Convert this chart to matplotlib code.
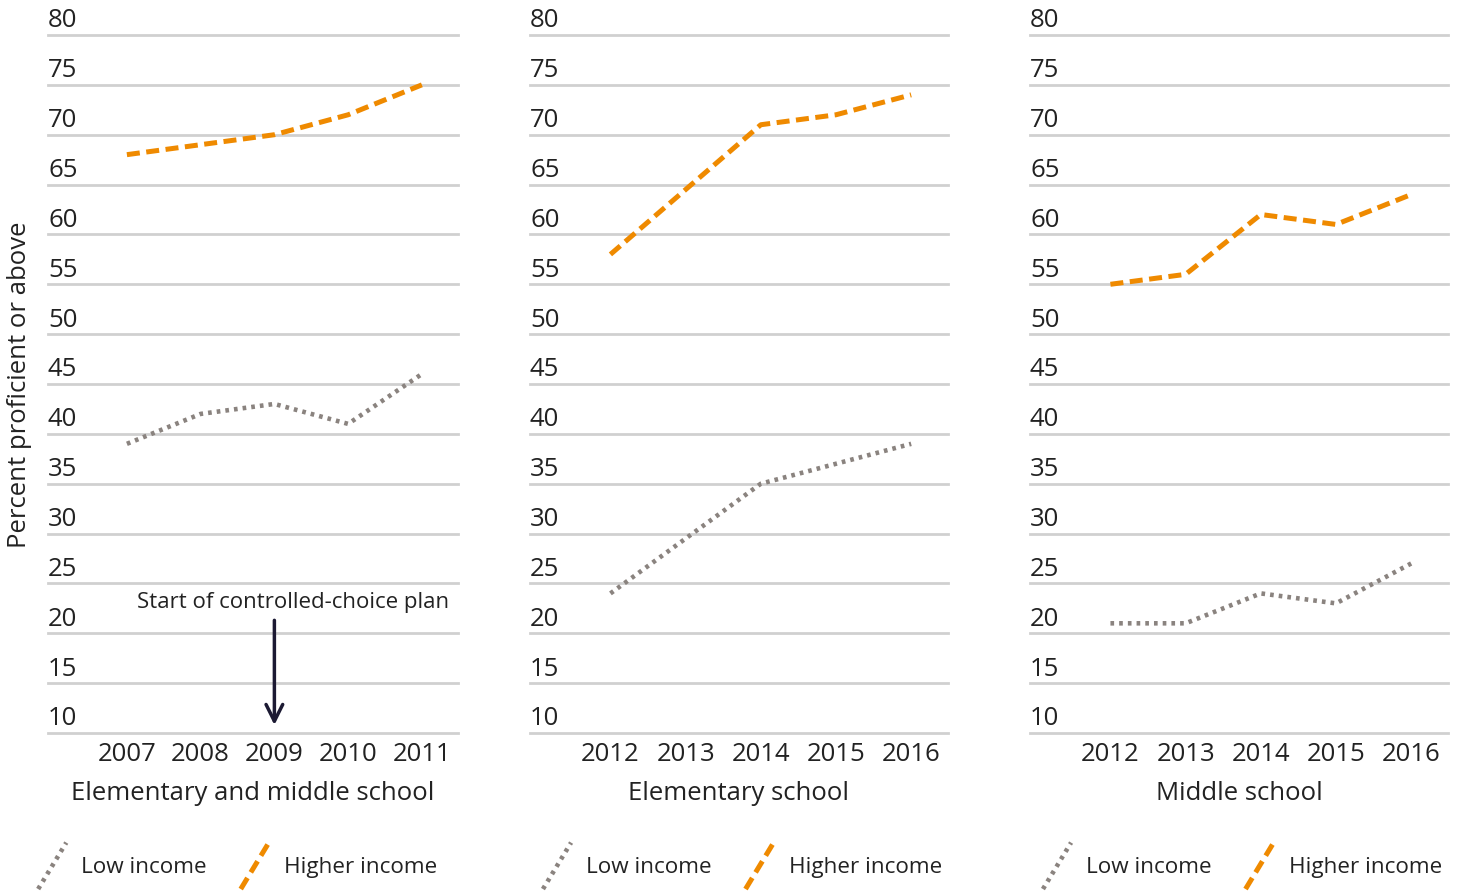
import matplotlib
matplotlib.use("Agg")
import matplotlib.pyplot as plt
from matplotlib.lines import Line2D
from matplotlib.legend_handler import HandlerLine2D

plt.rcParams['font.family'] = ['Open Sans', 'DejaVu Sans']

# data
years_a = ["2007", "2008", "2009", "2010", "2011"]
years_b = ["2012", "2013", "2014", "2015", "2016"]
panel_titles = ["Elementary and middle school", "Elementary school", "Middle school"]
low_income = [
    [39, 42, 43, 41, 46],
    [24, 29.5, 35, 37, 39],
    [21, 21, 24, 23, 27],
]
higher_income = [
    [68, 69, 70, 72, 75],
    [58, 64.5, 71, 72, 74],
    [55, 56, 62, 61, 64],
]
yticks = list(range(10, 85, 5))
annotation_text = "Start of controlled-choice plan"

ORANGE = "#ef8a00"
GREY = "#8a837f"
GRID = "#d0d0d0"
TEXT = "#222222"
FS = 18.5
LEG_FS = 16.2


class DiagHandler(HandlerLine2D):
    # legend key drawn as a steep diagonal line
    def create_artists(self, legend, orig_handle, xdescent, ydescent,
                       width, height, fontsize, trans):
        line = Line2D([-xdescent, -xdescent + width],
                      [-ydescent, -ydescent + height])
        self.update_prop(line, orig_handle, legend)
        line.set_transform(trans)
        return [line]


fig = plt.figure(figsize=(14.57, 8.94), dpi=100)
W, H = 1457, 894
lefts = [48, 530, 1030]
rights = [458, 948, 1448]
legend_x = [-0.024, 0.031, 0.031]
top_px, bot_px = 35, 733

axes = []
for i in range(3):
    ax = fig.add_axes([lefts[i] / W, 1 - bot_px / H,
                       (rights[i] - lefts[i]) / W, (bot_px - top_px) / H])
    axes.append(ax)
    years = years_a if i == 0 else years_b
    x = list(range(len(years)))
    for v in yticks:
        ax.axhline(v, color=GRID, lw=2, zorder=0, clip_on=False)
        ax.annotate(str(v), xy=(0, v), xycoords=ax.get_yaxis_transform(),
                    xytext=(0, 5.5), textcoords="offset points",
                    ha="left", va="baseline", fontsize=FS, color=TEXT)
    ax.plot(x, low_income[i], color=GREY, lw=3.3, ls=(0, (0.8, 1.1)),
            dash_capstyle="butt", label="Low income", clip_on=False)
    ax.plot(x, higher_income[i], color=ORANGE, lw=3.6, ls=(0, (2.6, 1.3)),
            dash_capstyle="butt", label="Higher income", clip_on=False)
    ax.set_ylim(10, 80)
    ax.set_xlim(-1.07, 4.49)
    ax.set_xticks(x)
    ax.set_xticklabels(years, fontsize=FS, color=TEXT)
    ax.set_yticks([])
    ax.tick_params(axis="x", length=0, pad=6.5)
    for s in ax.spines.values():
        s.set_visible(False)
    ax.set_xlabel(panel_titles[i], fontsize=FS, color=TEXT, labelpad=10)
    ax.legend(handler_map={Line2D: DiagHandler()}, loc="upper left",
              bbox_to_anchor=(legend_x[i], -0.157), ncol=2, frameon=False,
              fontsize=LEG_FS, handlelength=1.25, handleheight=2.8,
              handletextpad=0.67, columnspacing=1.5, borderpad=0,
              borderaxespad=0, labelcolor=TEXT)

ax0 = axes[0]
ax0.annotate("", xy=(2, 10.8), xytext=(2, 21.3),
             arrowprops=dict(arrowstyle="->", color="#1c1a33", lw=2.5,
                             mutation_scale=30, shrinkA=0, shrinkB=0))
ax0.text(2.25, 22.0, annotation_text, ha="center", va="bottom",
         fontsize=16, color=TEXT)

fig.text(20 / W, 1 - 385 / H, "Percent proficient or above", rotation=90,
         ha="center", va="center", fontsize=FS, color=TEXT)

fig.savefig("out.png", dpi=100)
